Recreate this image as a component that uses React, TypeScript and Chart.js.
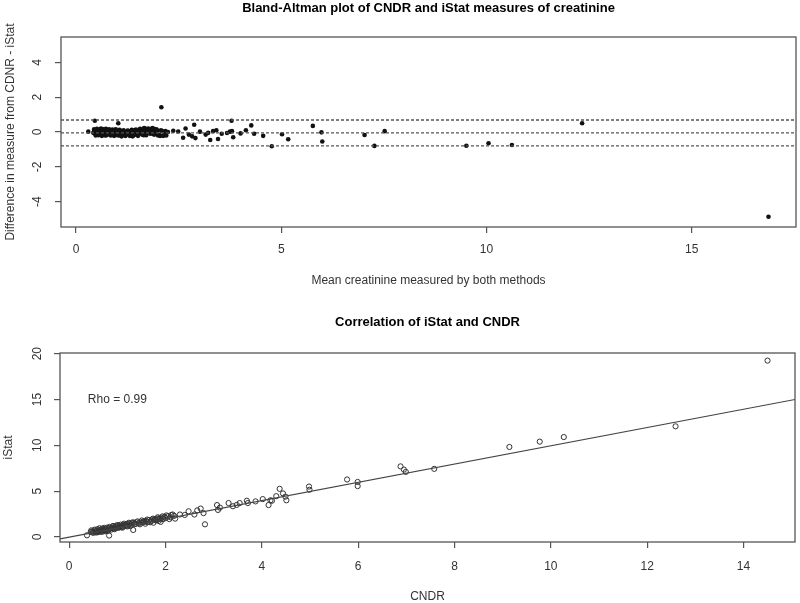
import React, { useEffect, useRef } from "react";
import { Chart, registerables } from "chart.js";

Chart.register(...registerables);

const FONT = '"Liberation Sans", Arial, Helvetica, sans-serif';

// ---------- Top plot: Bland-Altman ----------
const baTitle = "Bland-Altman plot of CNDR and iStat measures of creatinine";
const baXLabel = "Mean creatinine measured by both methods";
const baYLabel = "Difference in measure from CDNR - iStat";
const baXTicks = [0, 5, 10, 15];
const baYTicks = [-4, -2, 0, 2, 4];
const baXRange = [-0.365, 17.54];
const baYRange = [-5.46, 5.46];
const baLimits = [0.69, -0.05, -0.8];

const baMean = [
  0.3, 0.46, 1.03, 2.08, 2.37, 2.49, 2.61, 2.67, 2.75, 2.83, 2.88, 2.91, 3.02, 3.16, 3.22, 3.27,
  3.34, 3.42, 3.46, 3.55, 3.68, 3.75, 3.79, 3.8, 3.83, 4.01, 4.14, 4.27, 4.34, 4.56, 4.77, 5.02,
  5.17, 5.77, 5.98, 6.0, 7.03, 7.27, 7.52, 9.51, 10.05, 10.62, 12.33, 16.87,
  0.42, 0.45, 0.47, 0.5, 0.52, 0.54, 0.56, 0.58, 0.6, 0.62, 0.64, 0.66, 0.68, 0.7, 0.72, 0.74,
  0.76, 0.78, 0.8, 0.82, 0.84, 0.86, 0.88, 0.9, 0.92, 0.94, 0.96, 0.98, 1.0, 1.02, 1.05, 1.08,
  1.1, 1.12, 1.15, 1.18, 1.2, 1.22, 1.25, 1.28, 1.3, 1.32, 1.35, 1.38, 1.4, 1.42, 1.45, 1.48,
  1.5, 1.52, 1.55, 1.58, 1.6, 1.62, 1.65, 1.68, 1.7, 1.72, 1.75, 1.78, 1.8, 1.82, 1.85, 1.88,
  1.9, 1.92, 1.95, 1.98, 2.0, 2.05, 2.1, 2.15, 2.2, 2.24,
  0.44, 0.48, 0.51, 0.55, 0.57, 0.61, 0.63, 0.67, 0.71, 0.73, 0.77, 0.81, 0.85, 0.89, 0.93, 0.97,
  1.01, 1.06, 1.11, 1.16, 1.21, 1.26, 1.31, 1.36, 1.41, 1.46, 1.51, 1.56, 1.61, 1.66, 1.71, 1.76,
  1.81, 1.86, 1.91, 1.96, 2.02, 2.07, 2.12, 2.18,
];
const baDiff = [
  0.02, 0.65, 0.5, 1.42, 0.07, 0.03, -0.33, 0.2, -0.15, -0.25, 0.42, -0.35, 0.02, -0.15, -0.05, -0.46,
  0.05, 0.1, -0.4, -0.1, -0.06, 0.02, 0.65, 0.05, -0.3, -0.08, 0.1, 0.38, -0.1, -0.22, -0.82, -0.13,
  -0.42, 0.35, -0.02, -0.55, -0.17, -0.8, 0.05, -0.79, -0.65, -0.75, 0.5, -4.87,
  -0.05, 0.08, -0.12, 0.03, -0.08, 0.1, -0.02, 0.05, -0.15, 0.08, -0.05, 0.12, -0.1, 0.02, 0.07, -0.18,
  0.04, -0.06, 0.09, -0.12, 0.01, 0.06, -0.08, 0.03, -0.15, 0.1, -0.03, 0.05, -0.1, 0.02, -0.2, 0.07,
  -0.05, -0.15, 0.04, -0.08, -0.22, 0.01, -0.12, 0.06, -0.05, -0.18, 0.03, -0.25, -0.08, 0.1, -0.02, -0.15,
  0.05, -0.1, 0.0, 0.15, -0.05, 0.08, -0.18, 0.2, 0.05, -0.08, 0.12, 0.02, 0.16, -0.05, 0.08, -0.12,
  0.18, 0.02, -0.03, 0.1, -0.2, -0.22, 0.05, -0.18, -0.2, 0.0,
  0.15, -0.2, 0.18, -0.18, 0.14, 0.2, -0.22, 0.16, -0.2, 0.18, -0.15, 0.15, -0.2, 0.14, -0.22, 0.16,
  -0.18, 0.12, -0.25, 0.1, -0.2, 0.08, -0.22, 0.12, -0.18, 0.14, -0.22, 0.18, -0.15, 0.22, -0.18, 0.2,
  -0.1, 0.22, -0.15, 0.15, -0.15, 0.1, -0.22, 0.05,
];

// ---------- Bottom plot: correlation ----------
const corTitle = "Correlation of iStat and CNDR";
const corXLabel = "CNDR";
const corYLabel = "iStat";
const corXTicks = [0, 2, 4, 6, 8, 10, 12, 14];
const corYTicks = [0, 5, 10, 15, 20];
const corXRange = [-0.19, 15.07];
const corYRange = [-0.55, 20.07];
const regX = [-0.19, 15.07];
const regY = [-0.2, 15.0];
const rhoText = "Rho = 0.99";
const rhoPos = [1.0, 15.0];

const cndr = [
  0.37, 0.83, 1.33, 2.82, 2.3, 2.4, 2.48, 2.6, 2.66, 2.73, 2.79, 3.07, 3.09, 3.13, 3.31, 3.4,
  3.48, 3.54, 3.69, 3.71, 3.87, 4.02, 4.14, 4.18, 4.21, 4.3, 4.37, 4.44, 4.49, 4.51, 4.98, 4.99,
  5.77, 5.99, 5.99, 6.88, 6.95, 6.99, 7.58, 9.14, 9.77, 10.27, 12.59, 14.5,
  0.45, 0.48, 0.5, 0.52, 0.55, 0.57, 0.6, 0.62, 0.64, 0.66, 0.68, 0.7, 0.72, 0.74, 0.76, 0.78,
  0.8, 0.85, 0.87, 0.9, 0.92, 0.95, 0.97, 1.0, 1.02, 1.05, 1.08, 1.1, 1.12, 1.15, 1.18, 1.2,
  1.23, 1.25, 1.28, 1.3, 1.35, 1.38, 1.4, 1.45, 1.48, 1.52, 1.55, 1.58, 1.6, 1.63, 1.66, 1.7,
  1.72, 1.75, 1.78, 1.8, 1.83, 1.86, 1.88, 1.9, 1.92, 1.95, 1.98, 2.0, 2.05, 2.1, 2.15, 2.18, 2.2,
  0.46, 0.49, 0.53, 0.56, 0.59, 0.61, 0.63, 0.67, 0.69, 0.71, 0.73, 0.75, 0.79, 0.81, 0.84, 0.88,
  0.91, 0.94, 0.98, 1.01, 1.04, 1.07, 1.11, 1.14, 1.17, 1.21, 1.24, 1.27, 1.32, 1.36, 1.42, 1.47,
  1.51, 1.57, 1.62, 1.68, 1.74, 1.79, 1.84, 1.89, 1.94, 2.02, 2.08, 2.12,
];
const istat = [
  0.18, 0.15, 0.76, 1.38, 2.45, 2.4, 2.8, 2.45, 2.9, 3.1, 2.6, 3.48, 2.95, 3.2, 3.7, 3.35,
  3.5, 3.7, 3.95, 3.7, 3.88, 4.13, 3.48, 4.0, 3.95, 4.45, 5.25, 4.75, 4.4, 4.0, 5.5, 5.15,
  6.27, 6.0, 5.55, 7.7, 7.35, 7.1, 7.43, 9.82, 10.4, 10.9, 12.07, 19.24,
  0.55, 0.62, 0.45, 0.7, 0.58, 0.66, 0.52, 0.75, 0.62, 0.8, 0.7, 0.6, 0.85, 0.72, 0.9, 0.68,
  0.82, 0.95, 0.8, 1.05, 0.9, 1.1, 0.95, 1.15, 1.0, 1.2, 1.05, 1.25, 1.15, 1.3, 1.2, 1.4,
  1.25, 1.45, 1.35, 1.5, 1.55, 1.42, 1.6, 1.5, 1.65, 1.58, 1.72, 1.45, 1.75, 1.62, 1.85, 1.7,
  1.9, 1.55, 1.95, 1.8, 2.0, 1.75, 2.05, 1.65, 2.1, 1.95, 2.2, 2.05, 2.25, 2.15, 2.45, 2.3, 2.0,
  0.72, 0.5, 0.8, 0.48, 0.85, 0.62, 0.95, 0.55, 0.92, 0.78, 1.0, 0.62, 1.02, 0.7, 1.1, 0.98,
  1.2, 0.85, 1.25, 1.3, 1.05, 1.35, 1.02, 1.45, 1.35, 1.15, 1.55, 1.2, 1.6, 1.4, 1.7, 1.38,
  1.8, 1.65, 1.9, 1.6, 2.0, 1.85, 2.15, 1.95, 2.25, 2.35, 1.95, 2.4,
];

type PlotText = {
  title: string;
  titleY: number;
  xLabel: string;
  xLabelY: number;
  yLabel: string;
  yLabelX: number;
  xTicks: number[];
  yTicks: number[];
  xTickY: number;
  yTickX: number;
  notes: { x: number; y: number; text: string }[];
};

const rPlot = {
  id: "rPlot",
  afterDraw(chart: any, _args: any, o: PlotText) {
    const { ctx, chartArea: a, scales } = chart;
    const xs = scales.x;
    const ys = scales.y;
    ctx.save();
    ctx.strokeStyle = "#555";
    ctx.lineWidth = 1.3;
    ctx.strokeRect(a.left, a.top, a.right - a.left, a.bottom - a.top);

    ctx.fillStyle = "#333";
    ctx.font = `12px ${FONT}`;
    ctx.textAlign = "center";
    ctx.textBaseline = "middle";
    for (const v of o.xTicks) {
      ctx.fillText(String(v), xs.getPixelForValue(v), o.xTickY);
    }
    for (const v of o.yTicks) {
      ctx.save();
      ctx.translate(o.yTickX, ys.getPixelForValue(v));
      ctx.rotate(-Math.PI / 2);
      ctx.fillText(String(v), 0, 0);
      ctx.restore();
    }
    const cx = (a.left + a.right) / 2;
    const cy = (a.top + a.bottom) / 2;
    ctx.fillText(o.xLabel, cx, o.xLabelY);
    ctx.save();
    ctx.translate(o.yLabelX, cy);
    ctx.rotate(-Math.PI / 2);
    ctx.fillText(o.yLabel, 0, 0);
    ctx.restore();
    for (const n of o.notes) {
      ctx.fillText(n.text, xs.getPixelForValue(n.x), ys.getPixelForValue(n.y));
    }
    ctx.fillStyle = "#000";
    ctx.font = `bold 13px ${FONT}`;
    ctx.fillText(o.title, cx, o.titleY);
    ctx.restore();
  },
};

function scaleOpts(range: number[], ticks: number[], fitKey: "width" | "height", fitVal: number) {
  return {
    type: "linear",
    min: range[0],
    max: range[1],
    afterBuildTicks: (s: any) => {
      s.ticks = ticks.map((v) => ({ value: v }));
    },
    afterFit: (s: any) => {
      s[fitKey] = fitVal;
    },
    ticks: { display: false },
    border: { display: false },
    grid: {
      drawOnChartArea: false,
      drawTicks: true,
      tickLength: 6,
      color: "#555",
      lineWidth: 1.2,
    },
  };
}

export default function App() {
  const topRef = useRef<HTMLCanvasElement>(null);
  const botRef = useRef<HTMLCanvasElement>(null);

  useEffect(() => {
    const top = new Chart(topRef.current as HTMLCanvasElement, {
      type: "scatter",
      data: {
        datasets: [
          ...baLimits.map((v) => ({
            data: [
              { x: baXRange[0], y: v },
              { x: baXRange[1], y: v },
            ],
            showLine: true,
            borderColor: "#555",
            borderWidth: 1.3,
            borderDash: [3, 2],
            pointRadius: 0,
          })),
          {
            data: baMean.map((m, i) => ({ x: m, y: baDiff[i] })),
            pointRadius: 2.3,
            pointBackgroundColor: "#111",
            pointBorderWidth: 0,
            showLine: false,
          },
        ],
      } as any,
      options: {
        responsive: false,
        animation: false,
        events: [],
        layout: { padding: { top: 37, right: 3, left: 0, bottom: 0 } },
        plugins: {
          legend: { display: false },
          tooltip: { enabled: false },
          rPlot: {
            title: baTitle,
            titleY: 8,
            xLabel: baXLabel,
            xLabelY: 281,
            yLabel: baYLabel,
            yLabelX: 11,
            xTicks: baXTicks,
            yTicks: baYTicks,
            xTickY: 250,
            yTickX: 38,
            notes: [],
          },
        } as any,
        scales: {
          x: scaleOpts(baXRange, baXTicks, "height", 73),
          y: scaleOpts(baYRange, baYTicks, "width", 61),
        } as any,
      },
      plugins: [rPlot],
    });

    const bot = new Chart(botRef.current as HTMLCanvasElement, {
      type: "scatter",
      data: {
        datasets: [
          {
            data: regX.map((x, i) => ({ x, y: regY[i] })),
            showLine: true,
            borderColor: "#444",
            borderWidth: 1.2,
            pointRadius: 0,
          },
          {
            data: cndr.map((c, i) => ({ x: c, y: istat[i] })),
            pointRadius: 2.6,
            pointStyle: "circle",
            pointBackgroundColor: "rgba(0,0,0,0)",
            pointBorderColor: "#333",
            pointBorderWidth: 1,
            showLine: false,
          },
        ],
      } as any,
      options: {
        responsive: false,
        animation: false,
        events: [],
        layout: { padding: { top: 53, right: 4, left: 0, bottom: 0 } },
        plugins: {
          legend: { display: false },
          tooltip: { enabled: false },
          rPlot: {
            title: corTitle,
            titleY: 22,
            xLabel: corXLabel,
            xLabelY: 297,
            yLabel: corYLabel,
            yLabelX: 9,
            xTicks: corXTicks,
            yTicks: corYTicks,
            xTickY: 267,
            yTickX: 38,
            notes: [{ x: rhoPos[0], y: rhoPos[1], text: rhoText }],
          },
        } as any,
        scales: {
          x: scaleOpts(corXRange, corXTicks, "height", 61),
          y: scaleOpts(corYRange, corYTicks, "width", 60),
        } as any,
      },
      plugins: [rPlot],
    });

    return () => {
      top.destroy();
      bot.destroy();
    };
  }, []);

  return (
    <div style={{ position: "absolute", left: 0, top: 0, width: 800, height: 603, background: "#fff" }}>
      <canvas ref={topRef} width={800} height={300} style={{ position: "absolute", left: 0, top: 0 }} />
      <canvas ref={botRef} width={800} height={303} style={{ position: "absolute", left: 0, top: 300 }} />
    </div>
  );
}
